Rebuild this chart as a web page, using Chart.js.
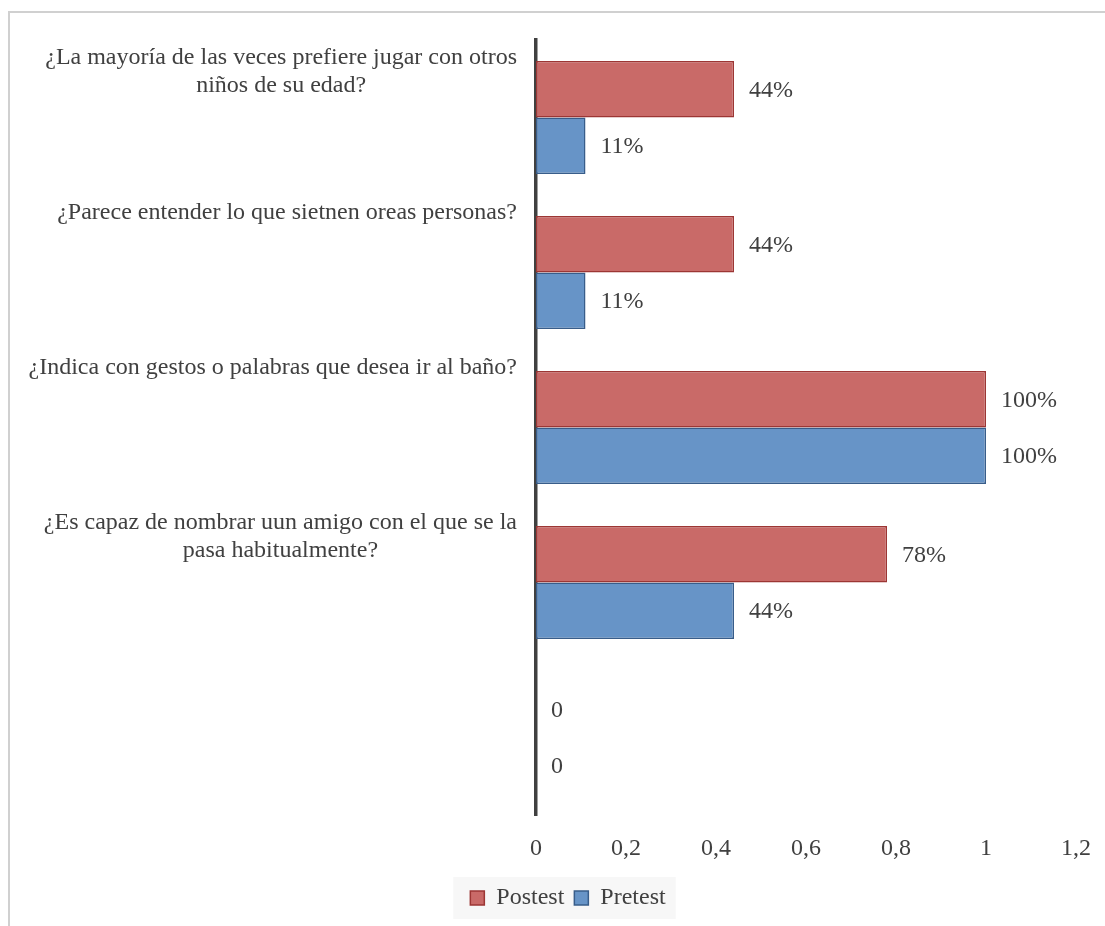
<!DOCTYPE html>
<html>
<head>
<meta charset="utf-8">
<script src="https://cdn.jsdelivr.net/npm/chart.js@4.4.1/dist/chart.umd.min.js"></script>
<style>
  html, body { margin: 0; padding: 0; background: #fff; }
  #frame { position: absolute; left: 8px; top: 11px; width: 1097px; height: 915px;
           border-left: 2px solid #d0d0d0; border-top: 2px solid #d0d0d0; }
  #wrap { position: absolute; left: 10px; top: 13px; width: 1095px; height: 913px; }
</style>
</head>
<body>
<div id="frame"></div>
<div id="wrap"><canvas id="chart" width="1095" height="913"></canvas></div>
<script>
// categories, top to bottom (each entry is the list of lines of the label)
const categories = [
    ["¿La mayoría de las veces prefiere jugar con otros", "niños de su edad?"],
    ["¿Parece entender lo que sietnen oreas personas?"],
    ["¿Indica con gestos o palabras que desea ir al baño?"],
    ["¿Es capaz de nombrar uun amigo con el que se la", "pasa habitualmente?"],
    [""]
];
const postest = [0.44, 0.44, 1, 0.78, 0];
const pretest = [0.11, 0.11, 1, 0.44, 0];
const xTicks = [0, 0.2, 0.4, 0.6, 0.8, 1, 1.2];

const FONT = "'Liberation Serif', 'Times New Roman', serif";
const TEXT = "#404040";

// draws the question labels to the left of the axis, block right aligned, lines centred
const catLabels = {
    id: "catLabels",
    afterDraw(chart) {
        const ctx = chart.ctx;
        const y = chart.scales.y;
        ctx.save();
        ctx.font = "24px " + FONT;
        ctx.fillStyle = TEXT;
        ctx.textAlign = "center";
        ctx.textBaseline = "middle";
        const right = y.right - 19;
        for (let i = 0; i < categories.length; i++) {
            const lines = categories[i];
            let widest = 0;
            for (const l of lines) widest = Math.max(widest, ctx.measureText(l).width);
            const cx = right - widest / 2;
            const top = y.getPixelForTick(i) - 60;
            lines.forEach((l, j) => ctx.fillText(l, cx, top + j * 28));
        }
        ctx.restore();
    }
};

// value labels at the end of each bar
const valueLabels = {
    id: "valueLabels",
    afterDatasetsDraw(chart) {
        const ctx = chart.ctx;
        ctx.save();
        ctx.font = "24px " + FONT;
        ctx.fillStyle = TEXT;
        ctx.textAlign = "left";
        ctx.textBaseline = "middle";
        chart.data.datasets.forEach((ds, di) => {
            const meta = chart.getDatasetMeta(di);
            meta.data.forEach((bar, i) => {
                const v = ds.data[i];
                const txt = v > 0 ? Math.round(v * 100) + "%" : "0";
                ctx.fillText(txt, bar.x + 15, bar.y + 1);
            });
        });
        ctx.restore();
    }
};

// light grey panel behind the legend
const legendBg = {
    id: "legendBg",
    beforeDraw(chart) {
        const boxes = chart.legend && chart.legend.legendHitBoxes;
        if (!boxes || !boxes.length) return;
        let l = Infinity, r = -Infinity, t = Infinity, b = -Infinity;
        for (const h of boxes) {
            l = Math.min(l, h.left); r = Math.max(r, h.left + h.width);
            t = Math.min(t, h.top); b = Math.max(b, h.top + h.height);
        }
        const cy = (t + b) / 2;
        const ctx = chart.ctx;
        ctx.save();
        ctx.fillStyle = "#f7f7f7";
        ctx.fillRect(l - 17, cy - 21, r - l + 27, 42);
        ctx.restore();
    }
};

new Chart(document.getElementById("chart"), {
    type: "bar",
    data: {
        labels: categories.map(c => c.join(" ")),
        datasets: [
            {
                label: "Postest",
                data: postest,
                backgroundColor: "#c96a68",
                borderColor: "#9c3634",
                borderWidth: 1.5,
                borderSkipped: false
            },
            {
                label: "Pretest",
                data: pretest,
                backgroundColor: "#6794c7",
                borderColor: "#385d8a",
                borderWidth: 1.5,
                borderSkipped: false
            }
        ]
    },
    options: {
        indexAxis: "y",
        responsive: false,
        animation: false,
        barPercentage: 1,
        categoryPercentage: 0.73,
        layout: { padding: { left: 50, top: 27, right: 29, bottom: 6 } },
        scales: {
            y: {
                z: 1,
                grid: { display: false },
                border: { display: true, color: "#404040", width: 3.5 },
                ticks: { display: false },
                afterFit(scale) { scale.width = 476; }
            },
            x: {
                min: 0,
                max: 1.2,
                grid: { display: false },
                border: { display: false },
                afterBuildTicks(scale) { scale.ticks = xTicks.map(v => ({ value: v })); },
                ticks: {
                    padding: 11,
                    color: TEXT,
                    font: { family: FONT, size: 24 },
                    maxRotation: 0,
                    callback: v => String(Math.round(v * 10) / 10).replace(".", ",")
                },
                afterFit(scale) { scale.height = 61; }
            }
        },
        plugins: {
            tooltip: { enabled: false },
            legend: {
                position: "bottom",
                labels: {
                    color: TEXT,
                    font: { family: FONT, size: 24 },
                    boxWidth: 14,
                    boxHeight: 14,
                    padding: 10
                }
            }
        }
    },
    plugins: [catLabels, valueLabels, legendBg]
});
</script>
</body>
</html>
